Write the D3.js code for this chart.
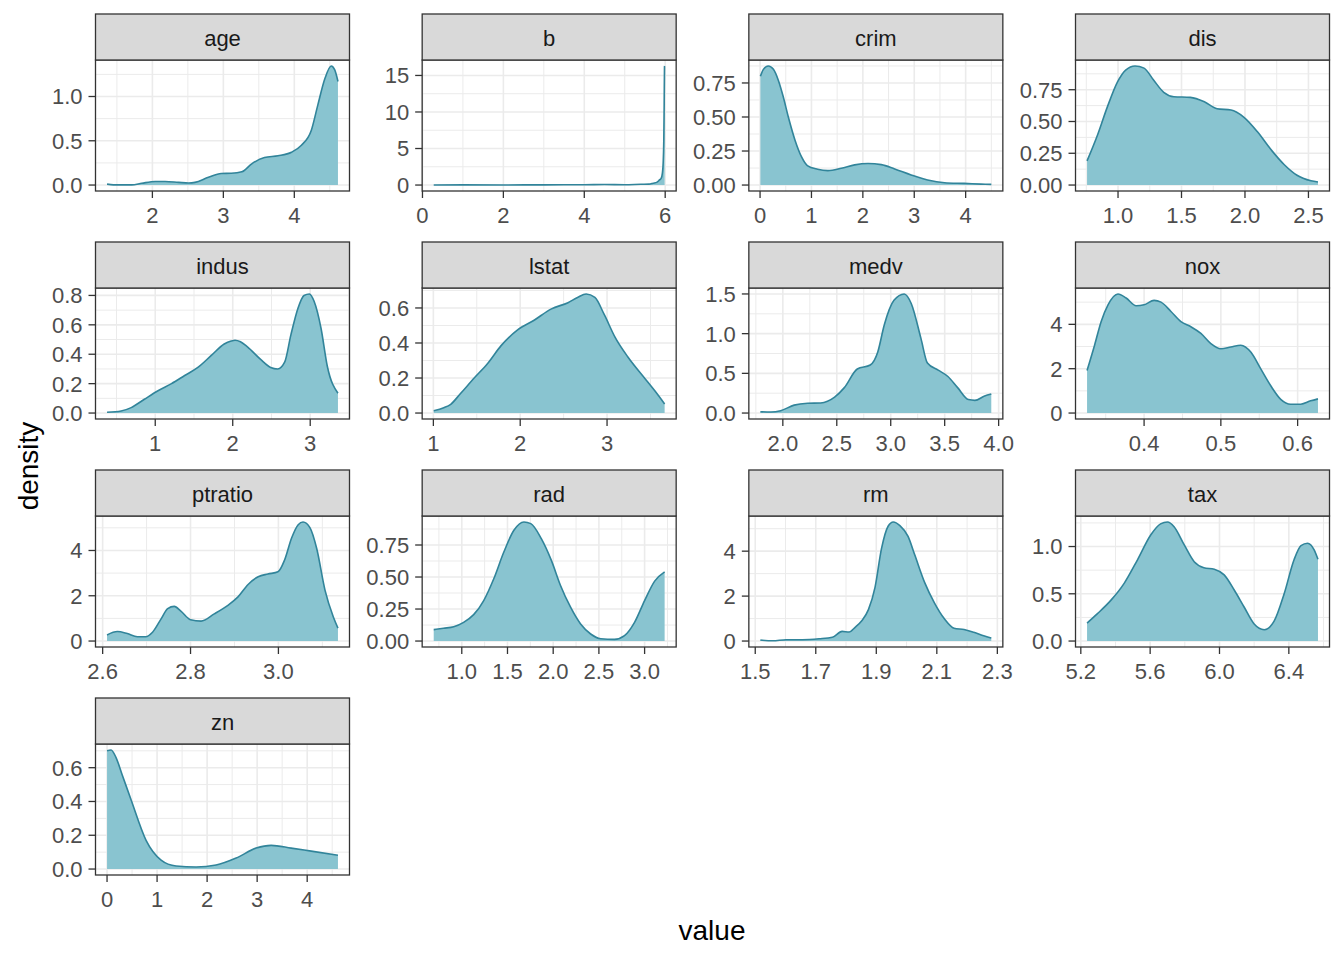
<!DOCTYPE html>
<html>
<head>
<meta charset="utf-8">
<script src="https://cdn.jsdelivr.net/npm/d3@7"></script>
<style>
  body { margin: 0; background: #ffffff; }
  text { font-family: "Liberation Sans", Arial, sans-serif; }
</style>
</head>
<body>
<svg id="chart" width="1344" height="960"></svg>
<script>
// Density curves (log1p-transformed Boston variables)
const ageX = [1.361, 1.45, 1.71, 1.85, 2.04, 2.18, 2.37, 2.51, 2.6, 2.79, 2.97, 3.11, 3.26, 3.40, 3.58, 3.77, 3.96, 4.10, 4.24, 4.33, 4.43, 4.52, 4.57, 4.615];
const ageY = [0.01, 0.002, 0.002, 0.02, 0.04, 0.04, 0.03, 0.023, 0.03, 0.087, 0.13, 0.133, 0.15, 0.24, 0.31, 0.33, 0.37, 0.45, 0.62, 0.9, 1.2, 1.345, 1.30, 1.17];

const bX = [0.278, 1.0, 2.0, 3.0, 4.0, 4.5, 5.0, 5.4, 5.6, 5.7, 5.8, 5.86, 5.9, 5.93, 5.95, 5.965, 5.975, 5.983, 5.986];
const bY = [0.01, 0.02, 0.01, 0.03, 0.04, 0.07, 0.04, 0.1, 0.12, 0.25, 0.4, 0.7, 0.9, 1.6, 3.0, 6.0, 11.0, 16.2, 16.3];

const crimX = [0.0063, 0.065, 0.16, 0.26, 0.355, 0.45, 0.55, 0.68, 0.81, 0.92, 1.12, 1.32, 1.58, 1.84, 2.1, 2.36, 2.62, 2.94, 3.26, 3.59, 3.97, 4.30, 4.499];
const crimY = [0.80, 0.85, 0.875, 0.85, 0.77, 0.65, 0.50, 0.33, 0.205, 0.143, 0.116, 0.106, 0.123, 0.148, 0.158, 0.15, 0.118, 0.074, 0.037, 0.017, 0.012, 0.007, 0.005];

const disX = [0.756, 0.837, 0.916, 0.995, 1.06, 1.134, 1.205, 1.28, 1.36, 1.44, 1.57, 1.68, 1.78, 1.89, 1.99, 2.10, 2.2, 2.31, 2.41, 2.52, 2.575];
const disY = [0.19, 0.39, 0.615, 0.81, 0.905, 0.937, 0.92, 0.826, 0.73, 0.695, 0.69, 0.655, 0.60, 0.59, 0.535, 0.417, 0.285, 0.16, 0.077, 0.034, 0.024];

const indusX = [0.378, 0.56, 0.69, 0.86, 1.03, 1.21, 1.38, 1.55, 1.72, 1.89, 1.98, 2.03, 2.10, 2.19, 2.36, 2.49, 2.58, 2.67, 2.75, 2.84, 2.92, 2.99, 3.05, 3.14, 3.22, 3.358];
const indusY = [0.005, 0.014, 0.037, 0.094, 0.15, 0.20, 0.255, 0.31, 0.39, 0.47, 0.49, 0.495, 0.485, 0.45, 0.365, 0.31, 0.30, 0.346, 0.53, 0.71, 0.80, 0.81, 0.76, 0.575, 0.32, 0.135];

const lstatX = [1.004, 1.12, 1.2, 1.31, 1.47, 1.62, 1.78, 1.97, 2.16, 2.36, 2.55, 2.66, 2.76, 2.86, 2.97, 3.09, 3.24, 3.44, 3.55, 3.663];
const lstatY = [0.0135, 0.03, 0.05, 0.11, 0.2, 0.28, 0.385, 0.475, 0.53, 0.595, 0.63, 0.66, 0.68, 0.66, 0.56, 0.435, 0.32, 0.195, 0.127, 0.052];

const medvX = [1.792, 1.89, 1.98, 2.105, 2.23, 2.35, 2.48, 2.57, 2.69, 2.81, 2.88, 2.94, 3.03, 3.125, 3.19, 3.28, 3.34, 3.44, 3.53, 3.62, 3.72, 3.78, 3.87, 3.932];
const medvY = [0.017, 0.013, 0.03, 0.1, 0.123, 0.127, 0.2, 0.32, 0.555, 0.605, 0.77, 1.11, 1.42, 1.5, 1.38, 0.94, 0.63, 0.54, 0.46, 0.32, 0.17, 0.16, 0.215, 0.24];

const noxX = [0.3257, 0.3355, 0.344, 0.353, 0.366, 0.3766, 0.3896, 0.40, 0.413, 0.422, 0.435, 0.448, 0.461, 0.474, 0.487, 0.50, 0.513, 0.526, 0.539, 0.552, 0.565, 0.578, 0.591, 0.604, 0.617, 0.6265];
const noxY = [1.92, 3.06, 4.12, 4.88, 5.37, 5.19, 4.84, 4.88, 5.08, 5.0, 4.58, 4.12, 3.89, 3.59, 3.13, 2.9, 2.98, 3.06, 2.75, 1.99, 1.23, 0.62, 0.40, 0.40, 0.55, 0.64];

const ptratioX = [2.610, 2.6335, 2.656, 2.679, 2.698, 2.7135, 2.733, 2.748, 2.763, 2.778, 2.80, 2.824, 2.854, 2.885, 2.908, 2.931, 2.954, 2.976, 2.999, 3.014, 3.03, 3.045, 3.056, 3.072, 3.087, 3.106, 3.125, 3.1355];
const ptratioY = [0.27, 0.42, 0.33, 0.19, 0.19, 0.39, 0.98, 1.43, 1.53, 1.32, 0.94, 0.88, 1.2, 1.58, 1.95, 2.5, 2.84, 2.96, 3.06, 3.58, 4.55, 5.14, 5.26, 5.0, 4.1, 2.25, 1.06, 0.57];

const radX = [0.693, 0.80, 0.912, 1.02, 1.13, 1.24, 1.35, 1.46, 1.57, 1.68, 1.755, 1.87, 1.98, 2.08, 2.19, 2.30, 2.41, 2.52, 2.67, 2.78, 2.89, 3.0, 3.11, 3.219];
const radY = [0.089, 0.10, 0.112, 0.146, 0.206, 0.316, 0.486, 0.695, 0.865, 0.93, 0.917, 0.80, 0.63, 0.434, 0.264, 0.133, 0.055, 0.018, 0.013, 0.042, 0.146, 0.316, 0.468, 0.54];

const rmX = [1.517, 1.558, 1.602, 1.656, 1.711, 1.755, 1.787, 1.81, 1.83, 1.852, 1.874, 1.896, 1.917, 1.939, 1.956, 1.978, 2.005, 2.027, 2.06, 2.092, 2.125, 2.157, 2.19, 2.222, 2.255, 2.280];
const rmY = [0.045, 0.01, 0.06, 0.06, 0.1, 0.165, 0.43, 0.4, 0.61, 0.9, 1.4, 2.4, 4.1, 5.11, 5.3, 5.14, 4.66, 3.84, 2.6, 1.7, 0.99, 0.57, 0.51, 0.39, 0.24, 0.135];

const taxX = [5.236, 5.296, 5.373, 5.45, 5.527, 5.604, 5.66, 5.7, 5.738, 5.796, 5.854, 5.91, 5.97, 6.027, 6.085, 6.142, 6.2, 6.258, 6.315, 6.373, 6.43, 6.47, 6.508, 6.546, 6.568];
const taxY = [0.19, 0.29, 0.43, 0.61, 0.86, 1.125, 1.24, 1.26, 1.21, 1.02, 0.84, 0.776, 0.76, 0.70, 0.54, 0.36, 0.18, 0.12, 0.21, 0.50, 0.86, 1.01, 1.035, 0.965, 0.865];

const znX = [0, 0.08, 0.18, 0.3, 0.48, 0.78, 1.08, 1.38, 1.78, 2.18, 2.58, 2.98, 3.28, 3.68, 4.08, 4.615];
const znY = [0.70, 0.705, 0.66, 0.56, 0.41, 0.17, 0.053, 0.018, 0.012, 0.024, 0.065, 0.124, 0.14, 0.124, 0.106, 0.082];

// Tick labels per facet
const ageXTicks = ["2", "3", "4"];
const ageYTicks = ["0.0", "0.5", "1.0"];
const bXTicks = ["0", "2", "4", "6"];
const bYTicks = ["0", "5", "10", "15"];
const crimXTicks = ["0", "1", "2", "3", "4"];
const crimYTicks = ["0.00", "0.25", "0.50", "0.75"];
const disXTicks = ["1.0", "1.5", "2.0", "2.5"];
const disYTicks = ["0.00", "0.25", "0.50", "0.75"];
const indusXTicks = ["1", "2", "3"];
const indusYTicks = ["0.0", "0.2", "0.4", "0.6", "0.8"];
const lstatXTicks = ["1", "2", "3"];
const lstatYTicks = ["0.0", "0.2", "0.4", "0.6"];
const medvXTicks = ["2.0", "2.5", "3.0", "3.5", "4.0"];
const medvYTicks = ["0.0", "0.5", "1.0", "1.5"];
const noxXTicks = ["0.4", "0.5", "0.6"];
const noxYTicks = ["0", "2", "4"];
const ptratioXTicks = ["2.6", "2.8", "3.0"];
const ptratioYTicks = ["0", "2", "4"];
const radXTicks = ["1.0", "1.5", "2.0", "2.5", "3.0"];
const radYTicks = ["0.00", "0.25", "0.50", "0.75"];
const rmXTicks = ["1.5", "1.7", "1.9", "2.1", "2.3"];
const rmYTicks = ["0", "2", "4"];
const taxXTicks = ["5.2", "5.6", "6.0", "6.4"];
const taxYTicks = ["0.0", "0.5", "1.0"];
const znXTicks = ["0", "1", "2", "3", "4"];
const znYTicks = ["0.0", "0.2", "0.4", "0.6"];

const panels = [
    { name: "age", x: ageX, y: ageY, xt: ageXTicks, yt: ageYTicks },
    { name: "b", x: bX, y: bY, xt: bXTicks, yt: bYTicks },
    { name: "crim", x: crimX, y: crimY, xt: crimXTicks, yt: crimYTicks },
    { name: "dis", x: disX, y: disY, xt: disXTicks, yt: disYTicks },
    { name: "indus", x: indusX, y: indusY, xt: indusXTicks, yt: indusYTicks },
    { name: "lstat", x: lstatX, y: lstatY, xt: lstatXTicks, yt: lstatYTicks },
    { name: "medv", x: medvX, y: medvY, xt: medvXTicks, yt: medvYTicks },
    { name: "nox", x: noxX, y: noxY, xt: noxXTicks, yt: noxYTicks },
    { name: "ptratio", x: ptratioX, y: ptratioY, xt: ptratioXTicks, yt: ptratioYTicks },
    { name: "rad", x: radX, y: radY, xt: radXTicks, yt: radYTicks },
    { name: "rm", x: rmX, y: rmY, xt: rmXTicks, yt: rmYTicks },
    { name: "tax", x: taxX, y: taxY, xt: taxXTicks, yt: taxYTicks },
    { name: "zn", x: znX, y: znY, xt: znXTicks, yt: znYTicks }
];

const svg = d3.select("#chart");

// layout
const colLeft = 95.5, colStep = 326.67, panelW = 254;
const rowTop = 60, rowStep = 228, stripH = 46, panelH = 131;
const tickLen = 7;

const FILL = "#89C4D0";
const LINE = "#31849A";
const BORDER = "#333333";
const GRID = "#EBEBEB";

svg.append("rect").attr("width", 1344).attr("height", 960).attr("fill", "#ffffff");

function minorBreaks(majors, dom) {
    const step = majors[1] - majors[0];
    const out = [];
    for (let i = -1; i < majors.length; i++) {
        const m = majors[0] + (i + 0.5) * step;
        if (m >= dom[0] && m <= dom[1]) out.push(m);
    }
    return out;
}

panels.forEach((p, i) => {
    const col = i % 4;
    const row = Math.floor(i / 4);
    const g = svg.append("g")
        .attr("transform", `translate(${colLeft + col * colStep},${rowTop + row * rowStep})`);

    const x0 = d3.min(p.x), x1 = d3.max(p.x);
    const xr = x1 - x0;
    const x = d3.scaleLinear().domain([x0 - 0.05 * xr, x1 + 0.05 * xr]).range([0, panelW]);
    const ymax = d3.max(p.y);
    const y = d3.scaleLinear().domain([-0.05 * ymax, 1.05 * ymax]).range([panelH, 0]);

    const xMaj = p.xt.map(Number);
    const yMaj = p.yt.map(Number);

    g.append("rect").attr("width", panelW).attr("height", panelH).attr("fill", "#ffffff");

    // grid
    g.selectAll("line.xmin").data(minorBreaks(xMaj, x.domain())).join("line")
        .attr("x1", d => x(d)).attr("x2", d => x(d)).attr("y1", 0).attr("y2", panelH)
        .attr("stroke", GRID).attr("stroke-width", 1);
    g.selectAll("line.ymin").data(minorBreaks(yMaj, y.domain())).join("line")
        .attr("y1", d => y(d)).attr("y2", d => y(d)).attr("x1", 0).attr("x2", panelW)
        .attr("stroke", GRID).attr("stroke-width", 1);
    g.selectAll("line.xmaj").data(xMaj).join("line")
        .attr("x1", d => x(d)).attr("x2", d => x(d)).attr("y1", 0).attr("y2", panelH)
        .attr("stroke", GRID).attr("stroke-width", 1.6);
    g.selectAll("line.ymaj").data(yMaj).join("line")
        .attr("y1", d => y(d)).attr("y2", d => y(d)).attr("x1", 0).attr("x2", panelW)
        .attr("stroke", GRID).attr("stroke-width", 1.6);

    const pts = p.x.map((v, k) => [v, p.y[k]]);
    const area = d3.area().x(d => x(d[0])).y0(y(0)).y1(d => y(d[1])).curve(d3.curveMonotoneX);
    const line = d3.line().x(d => x(d[0])).y(d => y(d[1])).curve(d3.curveMonotoneX);

    g.append("path").attr("d", area(pts)).attr("fill", FILL);
    g.append("path").attr("d", line(pts)).attr("fill", "none")
        .attr("stroke", LINE).attr("stroke-width", 1.6);

    g.append("rect").attr("width", panelW).attr("height", panelH)
        .attr("fill", "none").attr("stroke", BORDER).attr("stroke-width", 1.3);

    // strip
    g.append("rect").attr("y", -stripH).attr("width", panelW).attr("height", stripH)
        .attr("fill", "#D9D9D9").attr("stroke", BORDER).attr("stroke-width", 1.3);
    g.append("text").attr("x", panelW / 2).attr("y", -stripH + 32)
        .attr("text-anchor", "middle").attr("font-size", 22).attr("fill", "#1A1A1A")
        .text(p.name);

    // axes
    g.selectAll("line.xt").data(xMaj).join("line")
        .attr("x1", d => x(d)).attr("x2", d => x(d)).attr("y1", panelH).attr("y2", panelH + tickLen)
        .attr("stroke", BORDER).attr("stroke-width", 1.3);
    g.selectAll("text.xl").data(p.xt).join("text")
        .attr("x", d => x(+d)).attr("y", panelH + 32)
        .attr("text-anchor", "middle").attr("font-size", 22).attr("fill", "#4D4D4D")
        .text(d => d);
    g.selectAll("line.yt").data(yMaj).join("line")
        .attr("y1", d => y(d)).attr("y2", d => y(d)).attr("x1", -tickLen).attr("x2", 0)
        .attr("stroke", BORDER).attr("stroke-width", 1.3);
    g.selectAll("text.yl").data(p.yt).join("text")
        .attr("x", -tickLen - 6).attr("y", d => y(+d)).attr("dy", "0.36em")
        .attr("text-anchor", "end").attr("font-size", 22).attr("fill", "#4D4D4D")
        .text(d => d);
});

// axis titles
svg.append("text").attr("x", 712).attr("y", 940).attr("text-anchor", "middle")
    .attr("font-size", 28).attr("fill", "#000000").text("value");
svg.append("text").attr("transform", "translate(38,466) rotate(-90)").attr("text-anchor", "middle")
    .attr("font-size", 28).attr("fill", "#000000").text("density");
</script>
</body>
</html>
